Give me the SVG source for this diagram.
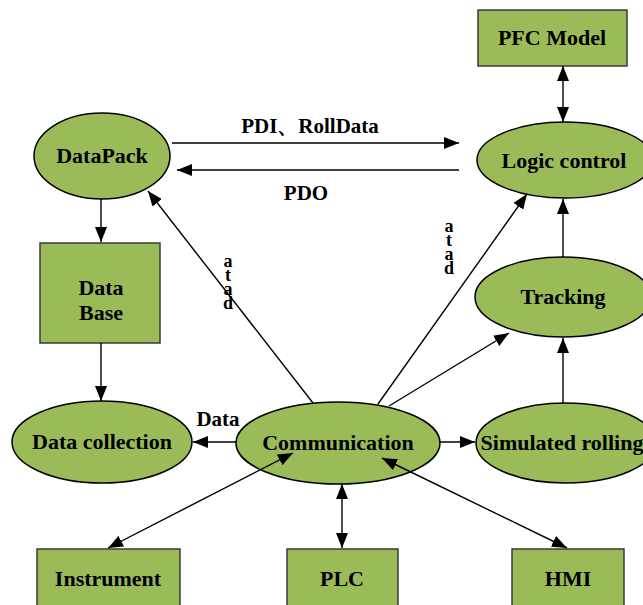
<svg xmlns="http://www.w3.org/2000/svg" width="643" height="605" viewBox="0 0 643 605">
<style>
.n{fill:#9BBB59;stroke:#000;stroke-width:1.5}
.r{fill:#9BBB59;stroke:#3a3a3a;stroke-width:1.5}
.t{font-family:"Liberation Serif","Times New Roman",serif;font-weight:bold;font-size:22px;fill:#000;text-anchor:middle}
.l{font-family:"Liberation Serif","Times New Roman",serif;font-weight:bold;font-size:21px;fill:#000;text-anchor:middle}
.v{font-family:"Liberation Serif","Times New Roman",serif;font-weight:bold;font-size:18px;fill:#000;writing-mode:vertical-rl;text-orientation:upright;letter-spacing:-6px}
.e{stroke:#000;stroke-width:1.4;fill:none}
</style>
<defs>
<marker id="a" markerUnits="userSpaceOnUse" markerWidth="16" markerHeight="12" refX="15" refY="6" orient="auto-start-reverse" viewBox="0 0 16 12">
<path d="M0,0 L15,6 L0,12 z" fill="#000"/>
</marker>
</defs>
<g id="pfc"><rect class="r" x="478" y="10" width="149" height="56"/><text class="t" x="552" y="45">PFC Model</text></g>
<g id="logic"><ellipse class="n" cx="565" cy="160" rx="88" ry="38"/><text class="t" x="564" y="168">Logic control</text></g>
<g id="datapack"><ellipse class="n" cx="102" cy="156" rx="68" ry="43"/><text class="t" x="102" y="163">DataPack</text></g>
<g id="database"><rect class="r" x="40" y="243" width="120" height="100"/><text class="t" x="101" y="295">Data</text><text class="t" x="101" y="320">Base</text></g>
<g id="tracking"><ellipse class="n" cx="563" cy="297" rx="88" ry="40"/><text class="t" x="563" y="304">Tracking</text></g>
<g id="datacollection"><ellipse class="n" cx="102" cy="442" rx="90" ry="41"/><text class="t" x="102" y="449">Data collection</text></g>
<g id="communication"><ellipse class="n" cx="338" cy="443" rx="102" ry="41"/><text class="t" x="338" y="450">Communication</text></g>
<g id="simulated"><ellipse class="n" cx="566" cy="443" rx="90" ry="40"/><text class="t" x="562" y="450">Simulated rolling</text></g>
<g id="instrument"><rect class="r" x="37" y="549" width="143" height="70"/><text class="t" x="108" y="586">Instrument</text></g>
<g id="plc"><rect class="r" x="287" y="549" width="111" height="70"/><text class="t" x="342" y="586">PLC</text></g>
<g id="hmi"><rect class="r" x="512" y="549" width="112" height="70"/><text class="t" x="568" y="586">HMI</text></g>
<g id="connectors">
<line class="e" x1="563" y1="66" x2="563" y2="122" marker-start="url(#a)" marker-end="url(#a)"/>
<line class="e" x1="172" y1="143" x2="459" y2="143" marker-end="url(#a)"/>
<line class="e" x1="459" y1="170" x2="177" y2="170" marker-end="url(#a)"/>
<line class="e" x1="101" y1="199" x2="101" y2="242" marker-end="url(#a)"/>
<line class="e" x1="101" y1="343" x2="101" y2="401" marker-end="url(#a)"/>
<line class="e" x1="236" y1="442" x2="193" y2="442" marker-end="url(#a)"/>
<line class="e" x1="440" y1="442" x2="475" y2="442" marker-end="url(#a)"/>
<line class="e" x1="563" y1="403" x2="563" y2="338" marker-end="url(#a)"/>
<line class="e" x1="563" y1="257" x2="563" y2="199" marker-end="url(#a)"/>
<line class="e" x1="313" y1="403" x2="148" y2="191" marker-end="url(#a)"/>
<line class="e" x1="378" y1="404" x2="527" y2="194" marker-end="url(#a)"/>
<line class="e" x1="389" y1="406" x2="509" y2="333" marker-end="url(#a)"/>
<line class="e" x1="293" y1="453" x2="108" y2="548" marker-start="url(#a)" marker-end="url(#a)"/>
<line class="e" x1="342" y1="484" x2="342" y2="548" marker-start="url(#a)" marker-end="url(#a)"/>
<line class="e" x1="382" y1="458" x2="567" y2="548" marker-start="url(#a)" marker-end="url(#a)"/>
<text class="l" x="310" y="133">PDI、RollData</text>
<text class="l" x="306" y="200">PDO</text>
<text class="l" x="218" y="426">Data</text>
<text class="v" x="228" y="251">atad</text>
<text class="v" x="449" y="216">atad</text>
</g>
</svg>
